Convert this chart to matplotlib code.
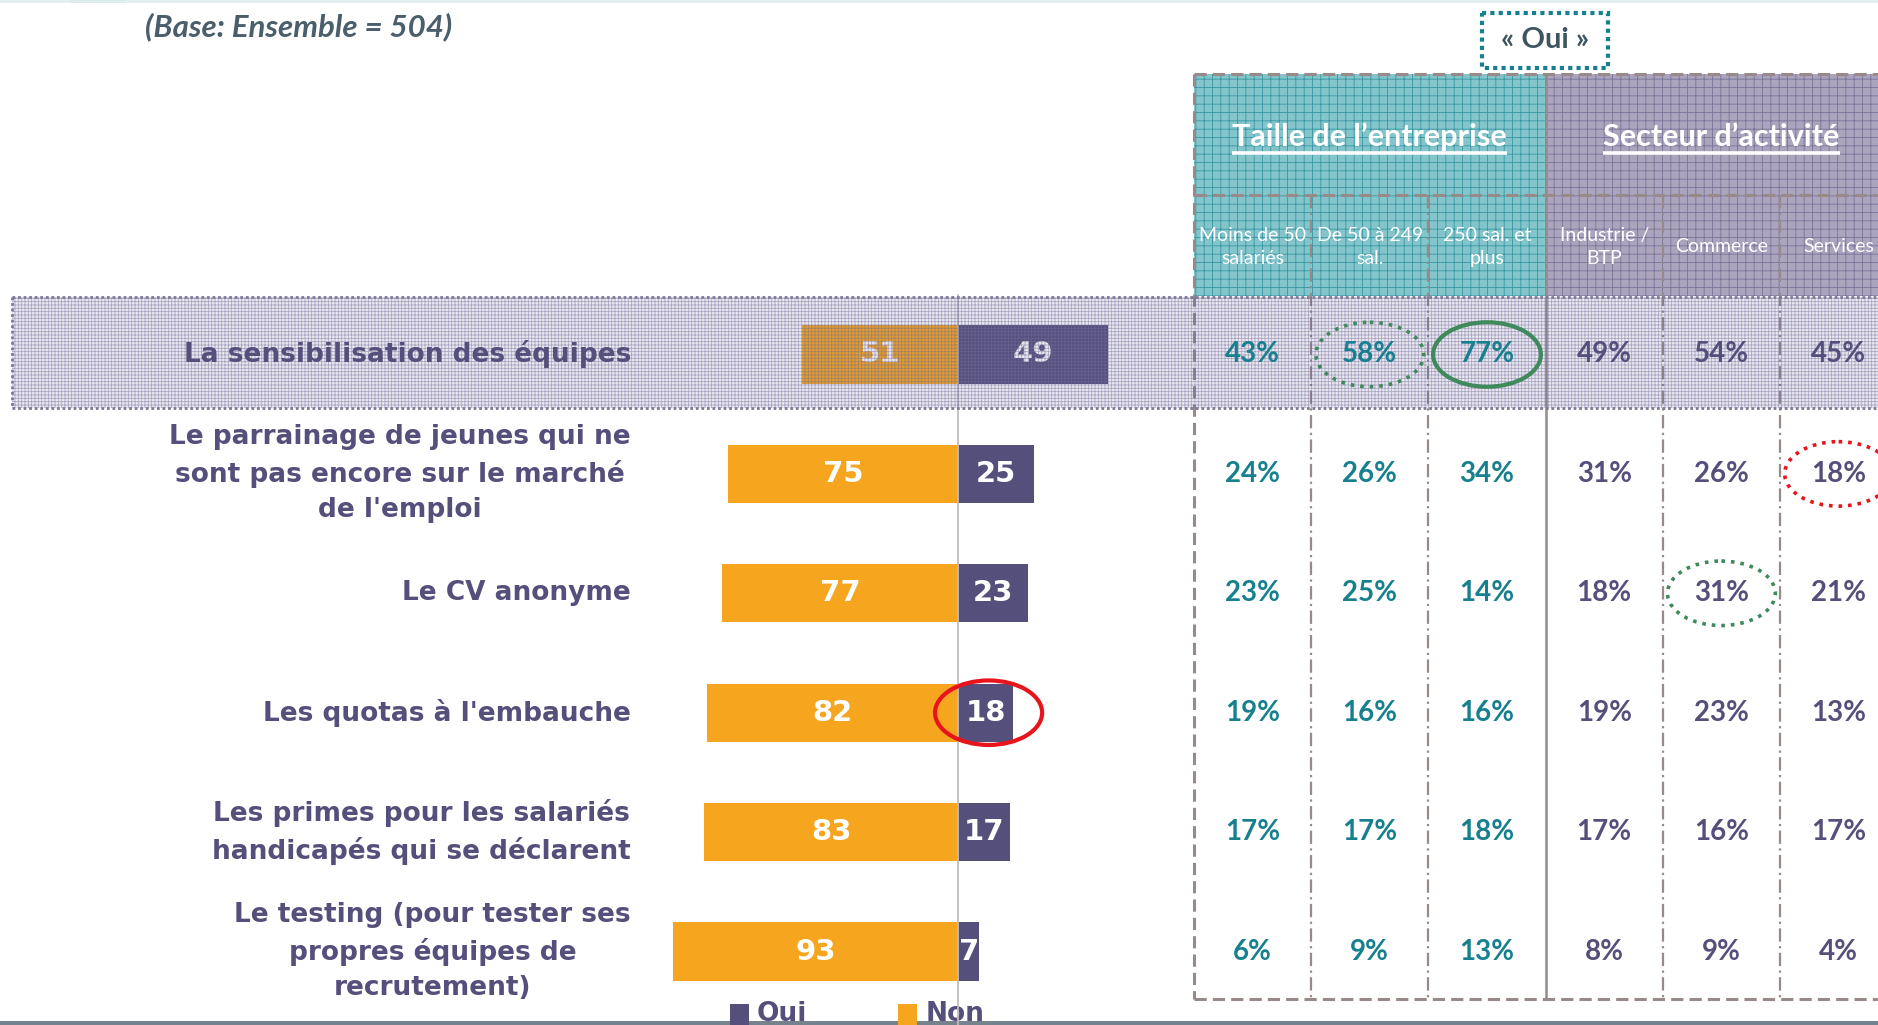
# =================
# IMPORTS
# =================
import matplotlib
matplotlib.use("Agg")
import matplotlib.pyplot as plt
from matplotlib.patches import Rectangle, Ellipse

plt.rcParams["hatch.linewidth"] = 0.6

# =================
# DONNEES
# =================
items = [
    "La sensibilisation des équipes",
    "Le parrainage de jeunes qui ne\nsont pas encore sur le marché\nde l'emploi",
    "Le CV anonyme",
    "Les quotas à l'embauche",
    "Les primes pour les salariés\nhandicapés qui se déclarent",
    "Le testing (pour tester ses\npropres équipes de\nrecrutement)",
]
oui = [49, 25, 23, 18, 17, 7]
non = [51, 75, 77, 82, 83, 93]

groupes = ["Taille de l’entreprise", "Secteur d’activité"]
sous_groupes = ["Moins de 50\nsalariés", "De 50 à 249\nsal.", "250 sal. et\nplus",
                "Industrie /\nBTP", "Commerce", "Services"]
tableau = [
    [43, 58, 77, 49, 54, 45],
    [24, 26, 34, 31, 26, 18],
    [23, 25, 14, 18, 31, 21],
    [19, 16, 16, 19, 23, 13],
    [17, 17, 18, 17, 16, 17],
    [6, 9, 13, 8, 9, 4],
]
# (ligne, colonne, style, couleur)
cercles = [(0, 1, ":", "#3f8a5c"), (0, 2, "-", "#3f8a5c"),
           (1, 5, ":", "#e8141c"), (2, 4, ":", "#3f8a5c")]

# =================
# STYLE
# =================
ORANGE = "#F6A61E"
VIOLET = "#554F7B"
TEAL = "#17808E"
GRIS = "#978a88"

W, H = 1878, 1025
fig = plt.figure(figsize=(W / 100, H / 100), dpi=100)

ROW_TOP, ROW_BOT = 294.8, 1011.2
CENTRE, PX = 958, 3.06
COL0, COLW = 1194, 117.2


def pix_axes(x0, y0, x1, y1, z):
    ax = fig.add_axes([x0 / W, 1 - y1 / H, (x1 - x0) / W, (y1 - y0) / H], zorder=z)
    ax.set_axis_off()
    ax.patch.set_alpha(0)
    return ax


# fond (coordonnées pixels)
bg = pix_axes(0, 0, W, H, 0)
bg.set_xlim(0, W)
bg.set_ylim(H, 0)

# haut de page
bg.plot([0, W], [1, 1], color="#e3eef0", lw=2)
bg.add_patch(Rectangle((71, 0), 54, 3, color="#8ccfd8", lw=0))
bg.text(145, 27, "(Base: Ensemble = 504)", fontsize=22.5, fontweight="bold",
        fontstyle="italic", family="Lato", color="#4a5f6b", va="center", ha="left")

# encadré « Oui »
bg.add_patch(Rectangle((1482, 13), 126, 55, fill=False, ec=TEAL, lw=3, ls=(0, (1, 1))))
bg.text(1545, 40, "« Oui »", fontsize=21, fontweight="bold", family="Lato",
        color="#3d5560", ha="center", va="center")

# en-têtes du tableau
col_x = [COL0 + COLW * k for k in range(7)]
bg.add_patch(Rectangle((col_x[0], 74), col_x[3] - col_x[0], 222, fc="#84c5cc",
                       ec="#3797a3", hatch="++", lw=0))
bg.add_patch(Rectangle((col_x[3], 74), col_x[6] - col_x[3], 222, fc="#aaa4bd",
                       ec="#7a7399", hatch="++", lw=0))
bg.plot([col_x[0], W], [74, 74], color=GRIS, lw=2.2, ls=(0, (4, 2)))
bg.plot([col_x[0], W], [195, 195], color=GRIS, lw=2.2, ls=(0, (4, 2)))
bg.plot([col_x[0], col_x[0]], [74, 999], color=GRIS, lw=2.2, ls=(0, (4, 2)))
bg.plot([col_x[3], col_x[3]], [74, 999], color=GRIS, lw=1.8)
for k in [1, 2, 4, 5]:
    bg.plot([col_x[k], col_x[k]], [195, 999], color=GRIS, lw=1.6, ls=(0, (6, 2, 1, 2)))
bg.plot([col_x[0], W], [999, 999], color=GRIS, lw=2.2, ls=(0, (4, 2)))

for g, (a, b) in zip(groupes, [(0, 3), (3, 6)]):
    xc = (col_x[a] + col_x[b]) / 2
    bg.text(xc, 137, g, fontsize=22, fontweight="bold", family="Lato",
            color="white", ha="center", va="center")
for j, s in enumerate(sous_groupes):
    bg.text(col_x[j] + COLW / 2, 247, s, fontsize=14, family="Lato", color="white",
            ha="center", va="center", linespacing=1.4)

# soulignement des titres de groupe
fig.canvas.draw()
r = fig.canvas.get_renderer()
inv = bg.transData.inverted()
for t in [tt for tt in bg.texts if tt.get_text() in groupes]:
    bb = t.get_window_extent(r)
    (x0, _), (x1, _) = inv.transform([(bb.x0, 0), (bb.x1, 0)])
    bg.plot([x0, x1], [153, 153], color="white", lw=2.6, solid_capstyle="butt")

# barre grise du bas
bg.add_patch(Rectangle((0, 1021), W, 4, color="#76838c", lw=0))

# légende
bg.add_patch(Rectangle((730, 1004), 19, 21, color=VIOLET, lw=0))
bg.text(757, 1001, "Oui", fontsize=19, fontweight="bold", color=VIOLET, va="top")
bg.add_patch(Rectangle((898, 1004), 19, 21, color=ORANGE, lw=0))
bg.text(926, 1001, "Non", fontsize=19, fontweight="bold", color=VIOLET, va="top")

# =================
# BARRES
# =================
ax = pix_axes(CENTRE - 100 * PX, ROW_TOP, CENTRE + 60 * PX, ROW_BOT, 1)
ax.set_xlim(-100, 60)
ax.set_ylim(5.5, -0.5)
pos = list(range(len(items)))
ax.barh(pos, [-v for v in non], height=0.486, color=ORANGE)
ax.barh(pos, oui, height=0.486, color=VIOLET)
for i in pos:
    ax.text(-non[i] / 2, i, str(non[i]), color="white", fontsize=21, fontweight="bold",
            ha="center", va="center")
    ax.text(oui[i] / 2, i, str(oui[i]), color="white", fontsize=21, fontweight="bold",
            ha="center", va="center")
ax.axvline(0, ymin=-0.02, ymax=1.0, color="#c4bcbc", lw=1.3, clip_on=False, zorder=4)
ax.add_patch(Ellipse((oui[3] / 2 + 1, 3), 35, 0.54, fill=False, ec="#e8141c", lw=3,
                     clip_on=False, zorder=5))

# bande grisée sur la première ligne
band = pix_axes(0, 0, W, H, 2)
band.set_xlim(0, W)
band.set_ylim(H, 0)
band.add_patch(Rectangle((12, 297), W - 12, 111, fc=(0.38, 0.36, 0.55, 0.13),
                         ec=(0.45, 0.43, 0.62, 0.55), hatch="+++++", lw=0))
band.plot([12, W], [297, 297], color="#7d7899", lw=2, ls=(0, (1, 1)))
band.plot([12, W], [408, 408], color="#7d7899", lw=2, ls=(0, (1, 1)))
band.plot([12, 12], [297, 408], color="#7d7899", lw=2, ls=(0, (1, 1)))

# =================
# LIBELLES + TABLEAU
# =================
top = pix_axes(0, ROW_TOP, W, ROW_BOT, 3)
top.set_xlim(0, W)
top.set_ylim(5.5, -0.5)
for i, lab in enumerate(items):
    top.text(631, i, lab, fontsize=19, fontweight="bold", color=VIOLET,
             ha="right", va="center", multialignment="center", linespacing=1.45)

tab = pix_axes(col_x[0], ROW_TOP, col_x[6], ROW_BOT, 4)
tab.set_xlim(0, 6)
tab.set_ylim(5.5, -0.5)
for i, ligne in enumerate(tableau):
    for j, v in enumerate(ligne):
        tab.text(j + 0.5, i, f"{v}%", fontsize=20, fontweight="bold", family="Lato",
                 color=TEAL if j < 3 else VIOLET, ha="center", va="center")
for i, j, st, c in cercles:
    tab.add_patch(Ellipse((j + 0.5, i), 0.92, 0.54, fill=False, ec=c,
                          lw=3 if st == "-" else 2.6, ls=st, clip_on=False))

fig.savefig("out.png", dpi=100)
